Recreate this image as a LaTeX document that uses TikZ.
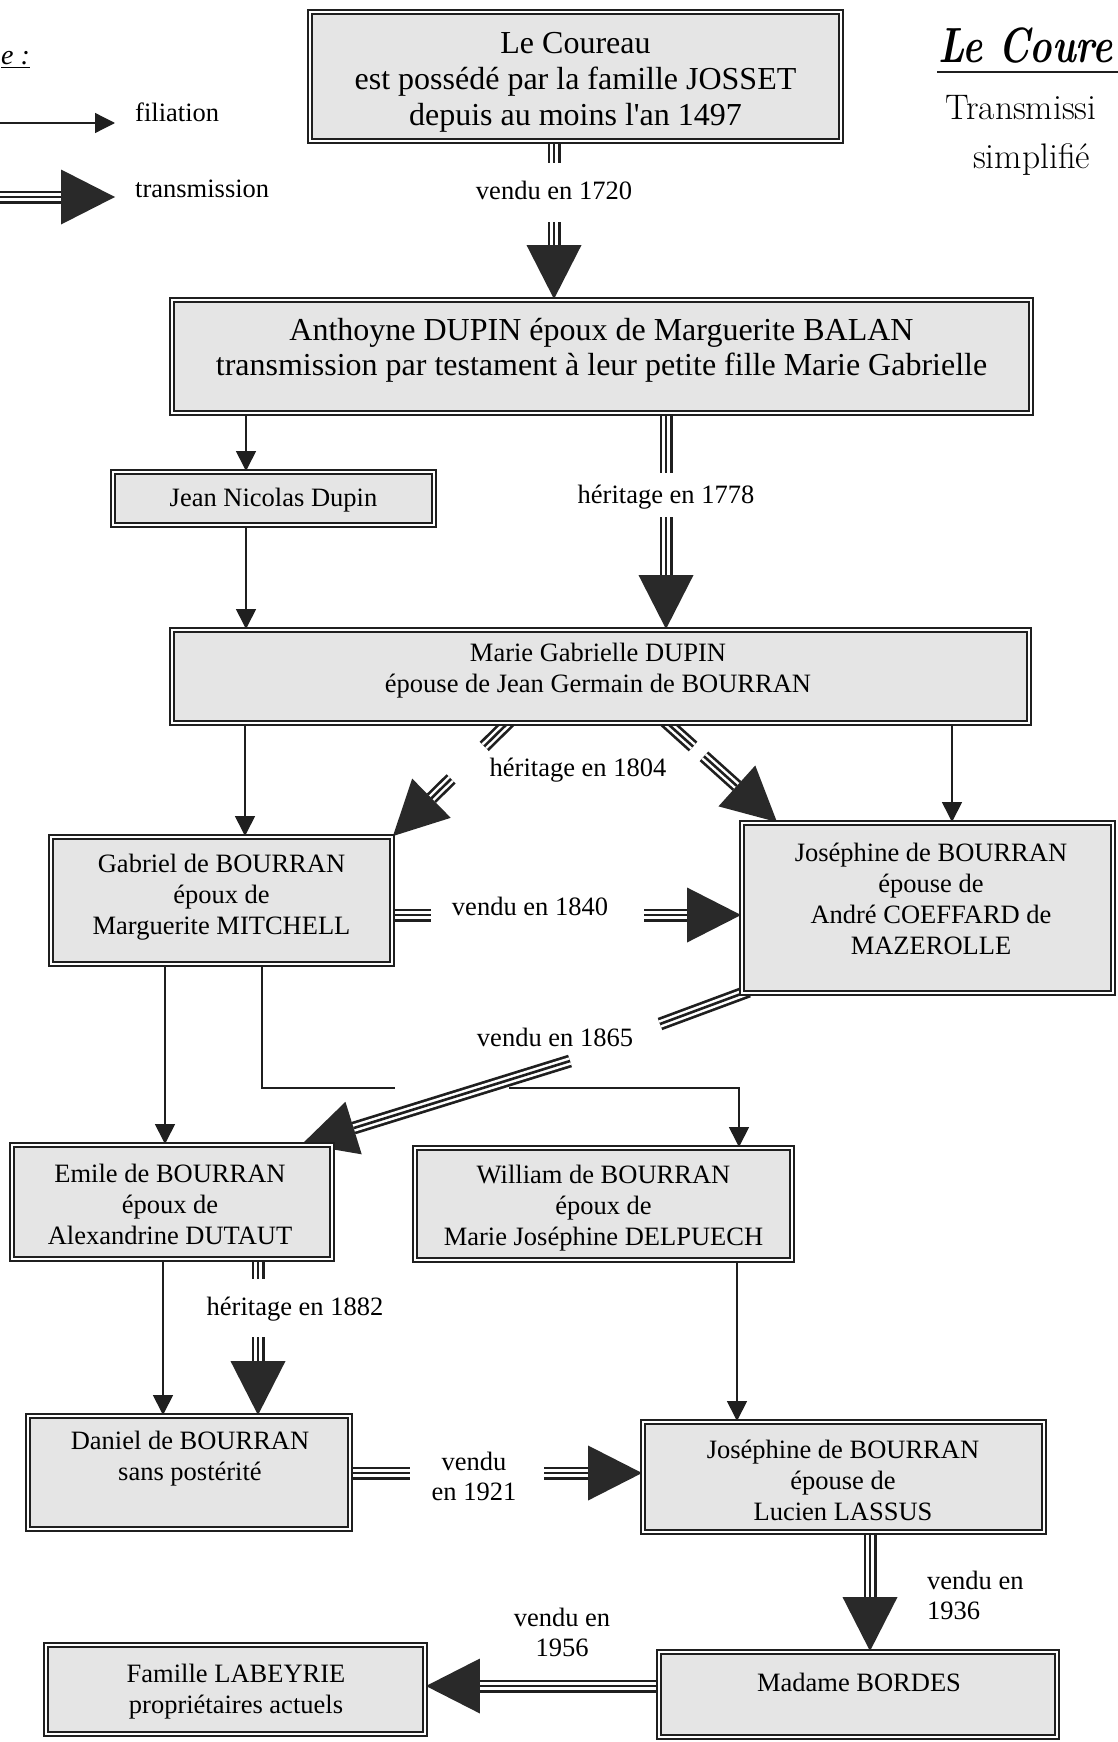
\documentclass[tikz,border=0pt]{standalone}
\usepackage{fontspec}
\newfontfamily\tnr{Liberation Serif}
\usetikzlibrary{arrows.meta,calc}
\pgfdeclarelayer{bg}
\pgfsetlayers{bg,main}
\definecolor{lc}{gray}{0.12}
\definecolor{headc}{gray}{0.16}
\definecolor{boxfill}{gray}{0.9}
\tikzset{
  box/.style={draw=lc, line width=1.7pt, double=white, double distance=2.4pt, fill=boxfill, inner sep=0pt},
  bigtxt/.style={font=\tnr\fontsize{32}{36}\selectfont, align=center, inner sep=0pt},
  btxt/.style={font=\tnr\fontsize{26.5}{31}\selectfont, align=center, inner sep=0pt},
  lbl/.style={font=\tnr\fontsize{26.5}{30}\selectfont, align=center, inner sep=0pt},
  fil/.style={draw=lc, line width=1.3pt},
  fila/.style={fil, -{Triangle[length=20pt,width=20pt]}},
  trip/.style={draw=lc, line width=13pt, postaction={draw=white, line width=7.6pt}, postaction={draw=lc, line width=2.6pt}},
}
\newcommand\transm[2]{%
  \path (#2) coordinate (hT) ($(#2)!54pt!(#1)$) coordinate (hB);
  \draw[trip] (#1) -- (hB);
  \fill[headc] (hT) -- ($(hB)!27.5pt!90:(hT)$) -- ($(hB)!27.5pt!-90:(hT)$) -- cycle;}
\begin{document}
\begin{tikzpicture}[x=1pt, y=-1pt]
\path[use as bounding box] (0,0) rectangle (1118,1742);
% ---------- boxes ----------
\node[box, minimum width=531.2pt, minimum height=129.2pt] (top) at (575.5,76.5) {};
\node[box, minimum width=859.2pt, minimum height=113.2pt] (box2) at (601.5,356.5) {};
\node[box, minimum width=321.2pt, minimum height=53.2pt] (jean) at (273.5,498.5) {};
\node[box, minimum width=857.2pt, minimum height=93.2pt] (mg) at (600.5,676.5) {};
\node[box, minimum width=341.2pt, minimum height=127.2pt] (gab) at (221.5,900.5) {};
\node[box, minimum width=371.2pt, minimum height=170.2pt] (jos) at (927.5,908) {};
\node[box, minimum width=320.2pt, minimum height=114.2pt] (emile) at (172,1202) {};
\node[box, minimum width=377.2pt, minimum height=112.2pt] (will) at (603.5,1204) {};
\node[box, minimum width=322.2pt, minimum height=113.2pt] (dan) at (189,1472.5) {};
\node[box, minimum width=401.2pt, minimum height=110.2pt] (jos2) at (843.5,1477) {};
\node[box, minimum width=398.2pt, minimum height=85.2pt] (bordes) at (858,1694.5) {};
\node[box, minimum width=379.2pt, minimum height=89.2pt] (lab) at (235.5,1689.5) {};
% ---------- box texts ----------
\node[bigtxt] (top-t) at (575.5,82) {Le Coureau\\est possédé par la famille JOSSET\\depuis au moins l\textquotesingle an 1497};
\node[bigtxt, font=\tnr\fontsize{32}{35}\selectfont] (box2-t) at (601.5,350.5) {Anthoyne DUPIN époux de Marguerite BALAN\\transmission par testament à leur petite fille Marie Gabrielle};
\node[btxt] (jean-t) at (273.5,500) {Jean Nicolas Dupin};
\node[btxt] (mg-t) at (598,671) {Marie Gabrielle DUPIN\\épouse de Jean Germain de BOURRAN};
\node[btxt] (gab-t) at (221.5,897) {Gabriel de BOURRAN\\époux de\\Marguerite MITCHELL};
\node[btxt] (jos-t) at (931,898.5) {Joséphine de BOURRAN\\épouse de\\André COEFFARD de\\MAZEROLLE};
\node[btxt] (emile-t) at (170,1204) {Emile de BOURRAN\\époux de\\Alexandrine DUTAUT};
\node[btxt] (will-t) at (603.5,1208) {William de BOURRAN\\époux de\\Marie Joséphine DELPUECH};
\node[btxt] (dan-t) at (190,1459) {Daniel de BOURRAN\\sans postérité};
\node[btxt] (jos2-t) at (843,1480) {Joséphine de BOURRAN\\épouse de\\Lucien LASSUS};
\node[btxt] (bordes-t) at (859,1682) {Madame BORDES};
\node[btxt] (lab-t) at (236,1692) {Famille LABEYRIE\\propriétaires actuels};
% ---------- labels ----------
\node[lbl] (l1720) at (554,190) {vendu en 1720};
\node[lbl] (l1778) at (666,497) {héritage en 1778};
\node[lbl] (l1804) at (578,770) {héritage en 1804};
\node[lbl] (l1840) at (530,906) {vendu en 1840};
\node[lbl] (l1865) at (555,1037) {vendu en 1865};
\node[lbl] (l1882) at (295,1309) {héritage en 1882};
\node[lbl] (l1921) at (474,1476) {vendu\\en 1921};
\node[lbl, align=left, anchor=west] (l1936) at (927,1595) {vendu en\\1936};
\node[lbl] (l1956) at (562,1632) {vendu en\\1956};
% ---------- legend & title ----------
\node[anchor=base west, inner sep=0pt, font=\tnr\itshape\fontsize{28}{30}\selectfont] (leg) at (1,65) {\underline{e :}};
\node[lbl, anchor=west] (lfil) at (135,112) {filiation};
\node[lbl, anchor=west] (ltr) at (135,189) {transmission};
\node[anchor=base west, inner sep=0pt, font=\bfseries\itshape\fontsize{38}{40}\selectfont] (ttl) at (938,63) {\scalebox{1}[1.3]{Le Coure}};
\node[anchor=base west, inner sep=0pt, font=\fontsize{35.5}{40}\selectfont] (ttl2) at (945,120) {Transmissi};
\node[anchor=base west, inner sep=0pt, font=\fontsize{35.5}{40}\selectfont] (ttl3) at (973,168) {simplifié};
\coordinate (u1) at (937,72); \coordinate (u2) at (1118,72);
% ---------- connectors ----------
\begin{pgfonlayer}{bg}
\fill[white] (0,0) rectangle (1118,1742);
\draw[lc, line width=2.5pt] (u1) -- (u2);
% legend
\coordinate (lf1) at (0,123); \coordinate (lf2) at (115,123);
\draw[fila] (lf1) -- (lf2);
\coordinate (lt1) at (0,197); \coordinate (lt2) at (115,197);
\transm{lt1}{lt2}
% 1720
\coordinate (c1a) at (554,163); \coordinate (c1b) at (554,222);
\coordinate (s1) at (c1a |- top.south); \coordinate (t1) at (c1a |- box2.north);
\draw[trip] (s1) -- (c1a);
\transm{c1b}{t1}
% filiation Anthoyne -> Jean -> Marie Gabrielle
\coordinate (f1) at (246,0);
\draw[fila] (f1 |- box2.south) -- (f1 |- jean.north);
\draw[fila] (f1 |- jean.south) -- (f1 |- mg.north);
% 1778
\coordinate (c2a) at (666,473); \coordinate (c2b) at (666,517);
\coordinate (t2) at (c2b |- mg.north);
\draw[trip] (c2a |- box2.south) -- (c2a);
\transm{c2b}{t2}
% filiation MG -> Gabriel, MG -> Josephine
\coordinate (f2) at (245,0); \draw[fila] (f2 |- mg.south) -- (f2 |- gab.north);
\coordinate (f3) at (952,0); \draw[fila] (f3 |- mg.south) -- (f3 |- jos.north);
% 1804 left
\coordinate (c3s) at (507,0); \coordinate (s3) at (c3s |- mg.south);
\coordinate (s3i) at ($(s3)!-8pt!(gab.north east)$);
\coordinate (c3a) at ($(s3)!0.2!(gab.north east)$);
\coordinate (c3b) at ($(s3)!0.49!(gab.north east)$);
\draw[trip] (s3i) -- (c3a);
\transm{c3b}{gab.north east}
% 1804 right
\coordinate (c4s) at (668,0); \coordinate (s4) at (c4s |- mg.south);
\coordinate (c4x) at (777,0); \coordinate (t4) at (c4x |- jos.north);
\coordinate (s4i) at ($(s4)!-8pt!(t4)$);
\coordinate (c4a) at ($(s4)!0.23!(t4)$);
\coordinate (c4b) at ($(s4)!0.33!(t4)$);
\draw[trip] (s4i) -- (c4a);
\transm{c4b}{t4}
% 1840
\coordinate (r1) at (0,915);
\coordinate (s5) at (gab.east |- r1); \coordinate (c5a) at (431,915); \coordinate (c5b) at (644,915);
\coordinate (t5) at (jos.west |- r1);
\draw[trip] (s5) -- (c5a);
\transm{c5b}{t5}
% filiation Gabriel -> Emile
\coordinate (f4) at (165,0); \draw[fila] (f4 |- gab.south) -- (f4 |- emile.north);
% filiation Gabriel -> William
\coordinate (w1) at (262,0); \coordinate (w2) at (262,1088); \coordinate (w3) at (395,1088);
\coordinate (w4) at (509,1088); \coordinate (w5) at (739,1088); \coordinate (w6) at (w5 |- will.north);
\draw[fil] (w1 |- gab.south) -- (w2) -- (w3);
\draw[fila] (w4) -- (w5) -- (w6);
% 1865
\coordinate (s6) at (jos.south west);
\coordinate (c6x) at (302,0); \coordinate (t6) at (c6x |- emile.north);
\coordinate (c6a) at (660,1024);
\coordinate (s6i) at ($(s6)!-8pt!(c6a)$);
\coordinate (c6b) at (570,1061);
\draw[trip] (s6i) -- (c6a);
\transm{c6b}{t6}
% filiation Emile -> Daniel
\coordinate (f5) at (163,0); \draw[fila] (f5 |- emile.south) -- (f5 |- dan.north);
% 1882
\coordinate (c7a) at (258,1279); \coordinate (c7b) at (258,1337); \coordinate (t7) at (c7b |- dan.north);
\draw[trip] (c7a |- emile.south) -- (c7a);
\transm{c7b}{t7}
% filiation William -> Josephine 2
\coordinate (f6) at (737,0); \draw[fila] (f6 |- will.south) -- (f6 |- jos2.north);
% 1921
\coordinate (r2) at (0,1473);
\coordinate (s8) at (dan.east |- r2); \coordinate (c8a) at (410,1473); \coordinate (c8b) at (544,1473);
\coordinate (t8) at (jos2.west |- r2);
\draw[trip] (s8) -- (c8a);
\transm{c8b}{t8}
% 1936
\coordinate (c9) at (870,0); \coordinate (s9) at (c9 |- jos2.south); \coordinate (t9) at (c9 |- bordes.north);
\transm{s9}{t9}
% 1956
\coordinate (r3) at (0,1686); \coordinate (s10) at (bordes.west |- r3); \coordinate (t10) at (lab.east |- r3);
\transm{s10}{t10}
\end{pgfonlayer}
\end{tikzpicture}
\end{document}
